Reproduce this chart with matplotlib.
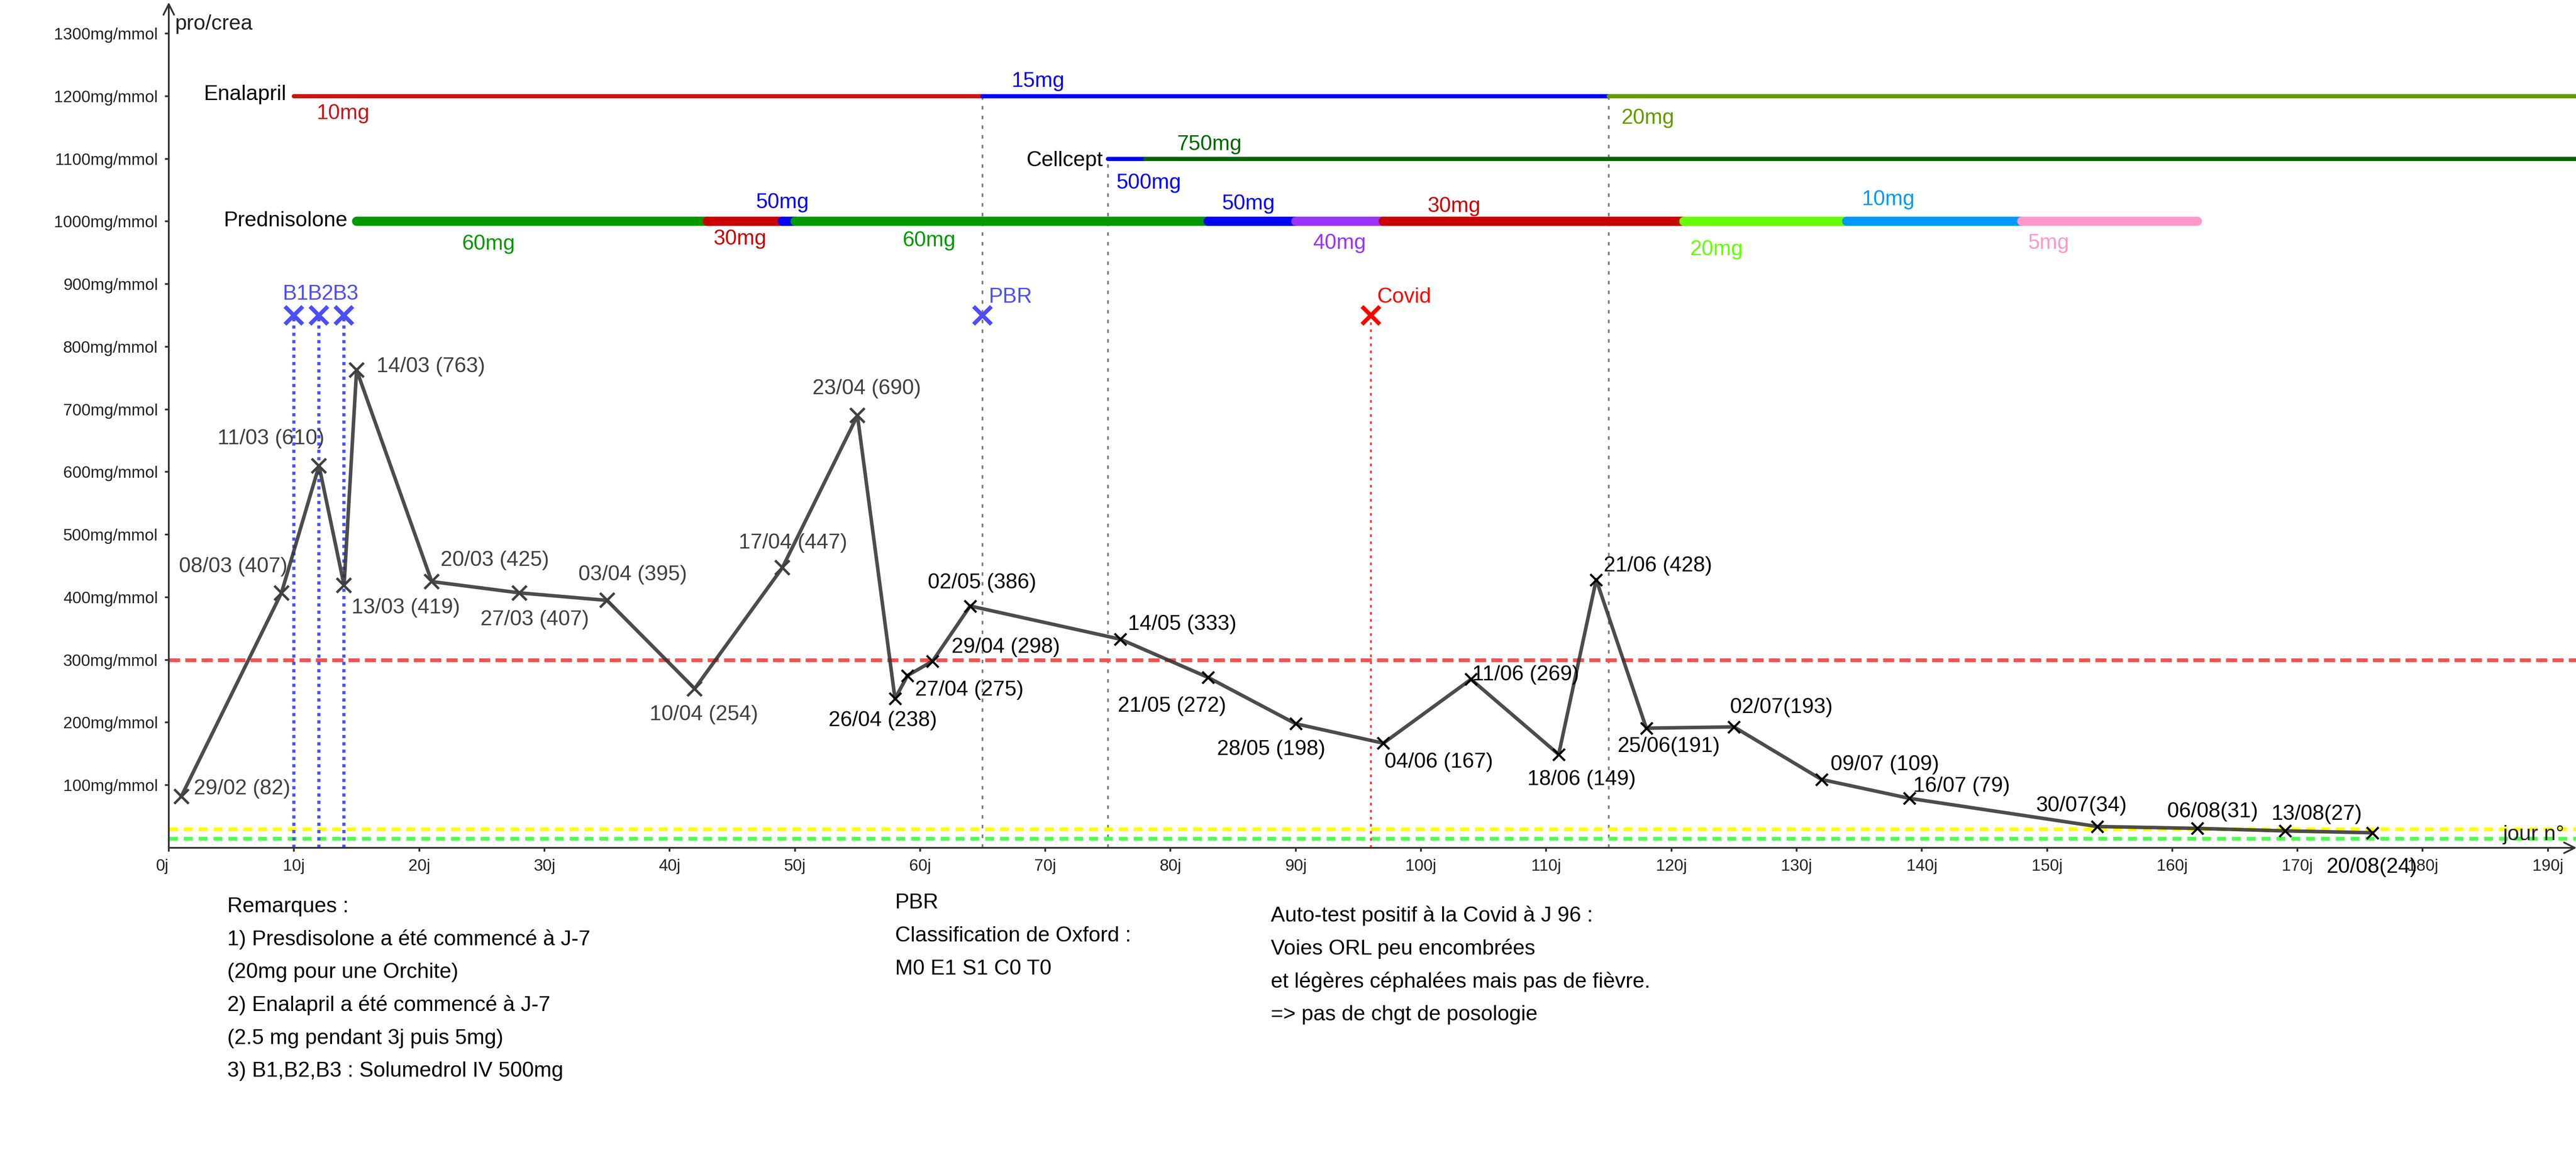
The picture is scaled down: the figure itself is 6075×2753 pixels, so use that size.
import matplotlib
matplotlib.use('Agg')
import matplotlib.pyplot as plt

plt.rcParams['font.family'] = ['Liberation Sans', 'DejaVu Sans']

# protéinurie (pro/crea) par jour de suivi
days = [1, 9, 12, 14, 15, 21, 28, 35, 42, 49, 55, 58, 59, 61, 64, 76, 83, 90, 97,
        104, 111, 114, 118, 125, 132, 139, 154, 162, 169, 176]
values = [82, 407, 610, 419, 763, 425, 407, 395, 254, 447, 690, 238, 275, 298, 386,
          333, 272, 198, 167, 269, 149, 428, 191, 193, 109, 79, 34, 31, 27, 24]
point_labels = ['29/02 (82)', '08/03 (407)', '11/03 (610)', '13/03 (419)', '14/03 (763)',
                '20/03 (425)', '27/03 (407)', '03/04 (395)', '10/04 (254)', '17/04 (447)',
                '23/04 (690)', '26/04 (238)', '27/04 (275)', '29/04 (298)', '02/05 (386)',
                '14/05 (333)', '21/05 (272)', '28/05 (198)', '04/06 (167)', '11/06 (269)',
                '18/06 (149)', '21/06 (428)', '25/06(191)', '02/07(193)', '09/07 (109)',
                '16/07 (79)', '30/07(34)', '06/08(31)', '13/08(27)', '20/08(24)']
# decalage des etiquettes (jours, mg/mmol)
lab_dx = [1.0, -8.2, -8.1, 0.6, 1.6, 0.7, -3.1, -2.3, -3.6, -3.5, -3.6, -5.3, 0.6, 1.5, -3.4,
          0.6, -7.2, -6.3, 0.1, 0.1, -2.5, 0.6, -2.3, -0.3, 0.7, 0.3, -4.9, -2.4, -1.1, -3.7]
lab_dy = [15, 45, 46, -33, 8, 37, -40, 44, -38, 43, 46, -32, -20, 25, 40, 27, -43, -38, -27,
          10, -37, 25, -26, 34, 27, 22, 36, 30, 30, -52]

# traitements
enal_start = [10, 65, 115]
enal_end = [65, 115, 200]
enal_dose = ['10mg', '15mg', '20mg']
enal_col = ['#cc1414', '#0000ff', '#669900']
enal_lx = [11.8, 67.3, 116.0]
enal_ly = [1175, 1227, 1168]

cell_start = [75, 78]
cell_end = [78, 200]
cell_dose = ['500mg', '750mg']
cell_col = ['#0000ff', '#006600']
cell_lx = [75.7, 80.5]
cell_ly = [1064, 1126]

pred_start = [15, 43, 49, 50, 83, 90, 97, 121, 134, 148]
pred_end = [43, 49, 50, 83, 90, 97, 121, 134, 148, 162]
pred_dose = ['60mg', '30mg', '50mg', '60mg', '50mg', '40mg', '30mg', '20mg', '10mg', '5mg']
pred_col = ['#009900', '#cc0000', '#0000ff', '#009900', '#0000ff', '#9933ff', '#cc0000',
            '#66ff00', '#0099ff', '#ff99cc']
pred_lx = [23.4, 43.5, 46.9, 58.6, 84.1, 91.4, 100.5, 121.5, 135.2, 148.5]
pred_ly = [967, 975, 1033, 972, 1031, 968, 1027, 958, 1038, 968]

bolus_days = [10, 12, 14]
bolus_names = ['B1', 'B2', 'B3']
pbr_day = 65
covid_day = 96
event_y = 850
guide_days = [65, 75, 115]
guide_tops = [1200, 1100, 1200]

ytick_vals = list(range(100, 1400, 100))
xtick_vals = list(range(0, 200, 10))

remarks = ['Remarques :', '1) Presdisolone a été commencé à J-7', '(20mg pour une Orchite)',
           '2) Enalapril a été commencé à J-7', '(2.5 mg pendant 3j puis 5mg)',
           '3) B1,B2,B3 : Solumedrol IV 500mg']
pbr_notes = ['PBR', 'Classification de Oxford :', 'M0 E1 S1 C0 T0']
covid_notes = ['Auto-test positif à la Covid à J 96 :', 'Voies ORL peu encombrées',
               'et légères céphalées mais pas de fièvre.', '=> pas de chgt de posologie']

fig = plt.figure(figsize=(20.25, 9.1767), dpi=300)
ax = fig.add_axes([398 / 6075, 1 - 2000 / 2753, 192.3 * 29.53 / 6075, 1350 * 1.4777 / 2753])
ax.set_xlim(0, 192.3)
ax.set_ylim(0, 1350)
for s in ax.spines.values():
    s.set_visible(False)

# seuils
ax.axhline(300, color='#ff4d4d', lw=2.1, dashes=(3.0, 1.4), zorder=2)
ax.axhline(30, color='#ffff00', lw=2.1, dashes=(2.4, 1.6), zorder=2)
ax.axhline(15, color='#4cff4c', lw=2.1, dashes=(2.4, 1.6), zorder=2)

# reperes verticaux
for d, top in zip(guide_days, guide_tops):
    ax.plot([d, d], [0, top], color='#808080', lw=1.0, dashes=(2, 3.5), zorder=1)
for d in bolus_days:
    ax.plot([d, d], [0, event_y], color='#4d4dff', lw=1.8, dashes=(1, 1.3), zorder=2)
ax.plot([covid_day, covid_day], [0, event_y], color='#ff3333', lw=1.0, dashes=(1.5, 2.5), zorder=2)

# evenements
ax.plot(bolus_days + [pbr_day], [event_y] * 4, 'x', color='#4d4dff', ms=10, mew=2.3, zorder=5)
ax.plot([covid_day], [event_y], 'x', color='#ff0000', ms=10, mew=2.3, zorder=5)
for d, n in zip(bolus_days, bolus_names):
    ax.text(d + 0.15, 875, n, color='#4d4dff', fontsize=12, ha='center', va='baseline')
ax.text(pbr_day + 0.5, 870, 'PBR', color='#4d4dff', fontsize=12, ha='left', va='baseline')
ax.text(covid_day + 0.5, 870, 'Covid', color='#ff0000', fontsize=12, ha='left', va='baseline')

# traitements
for a, b, c in zip(enal_start, enal_end, enal_col):
    ax.plot([a, b], [1200, 1200], color=c, lw=2.4, solid_capstyle='round', zorder=3)
for x, y, t, c in zip(enal_lx, enal_ly, enal_dose, enal_col):
    ax.text(x, y - 12, t, color=c, fontsize=12, ha='left', va='baseline')
ax.text(9.4, 1194, 'Enalapril', fontsize=12, ha='right', va='baseline')

for a, b, c in zip(cell_start, cell_end, cell_col):
    ax.plot([a, b], [1100, 1100], color=c, lw=2.4, solid_capstyle='round', zorder=3)
for x, y, t, c in zip(cell_lx, cell_ly, cell_dose, cell_col):
    ax.text(x, y - 12, t, color=c, fontsize=12, ha='left', va='baseline')
ax.text(74.6, 1088, 'Cellcept', fontsize=12, ha='right', va='baseline')

for a, b, c in zip(pred_start, pred_end, pred_col):
    ax.plot([a, b], [1000, 1000], color=c, lw=5.2, solid_capstyle='round', zorder=3)
for x, y, t, c in zip(pred_lx, pred_ly, pred_dose, pred_col):
    ax.text(x, y - 12, t, color=c, fontsize=12, ha='left', va='baseline')
ax.text(14.3, 992, 'Prednisolone', fontsize=12, ha='right', va='baseline')

# courbe pro/crea
ax.plot(days, values, color='#333333', lw=2.0, alpha=0.88, zorder=4)
n_grey = 11
ax.plot(days[:n_grey], values[:n_grey], 'x', color='#404040', ms=8, mew=1.4, zorder=5)
ax.plot(days[n_grey:], values[n_grey:], 'x', color='black', ms=6.5, mew=1.2, zorder=5)
for i, (d, v, t) in enumerate(zip(days, values, point_labels)):
    col = '#404040' if i < n_grey else 'black'
    ax.text(d + lab_dx[i], v + lab_dy[i] - 12, t, color=col, fontsize=12,
            ha='left', va='baseline', zorder=6)

# axes fleches
arrow = dict(arrowstyle='->,head_length=0.6,head_width=0.3', lw=1.0, color='#333333',
             shrinkA=0, shrinkB=0)
ax.annotate('', xy=(192.3, 0), xytext=(0, 0), arrowprops=arrow, annotation_clip=False)
ax.annotate('', xy=(0, 1350), xytext=(0, 0), arrowprops=arrow, annotation_clip=False)
ax.text(0.5, 1306, 'pro/crea', fontsize=12, ha='left', va='baseline', color='#222222')
ax.text(186.4, 12, 'jour n°', fontsize=12, ha='left', va='baseline', color='#222222')

ax.set_yticks(ytick_vals)
ax.set_yticklabels([f'{v}mg/mmol' for v in ytick_vals])
ax.set_xticks(xtick_vals)
ax.set_xticklabels([f'{v}j' for v in xtick_vals])
ax.get_xticklabels()[0].set_ha('right')
ax.tick_params(direction='out', length=2.2, width=1.0, color='#333333',
               labelsize=9.3, labelcolor='#222222', pad=4)

# remarques sous le graphique
for i, t in enumerate(remarks):
    ax.text(4.68, -91 - 12 - i * 52.5, t, fontsize=12, ha='left', va='baseline', clip_on=False)
for i, t in enumerate(pbr_notes):
    ax.text(58.0, -85 - 12 - i * 52.5, t, fontsize=12, ha='left', va='baseline', clip_on=False)
for i, t in enumerate(covid_notes):
    ax.text(88.0, -106 - 12 - i * 52.5, t, fontsize=12, ha='left', va='baseline', clip_on=False)

fig.savefig('out.png', dpi=300)
